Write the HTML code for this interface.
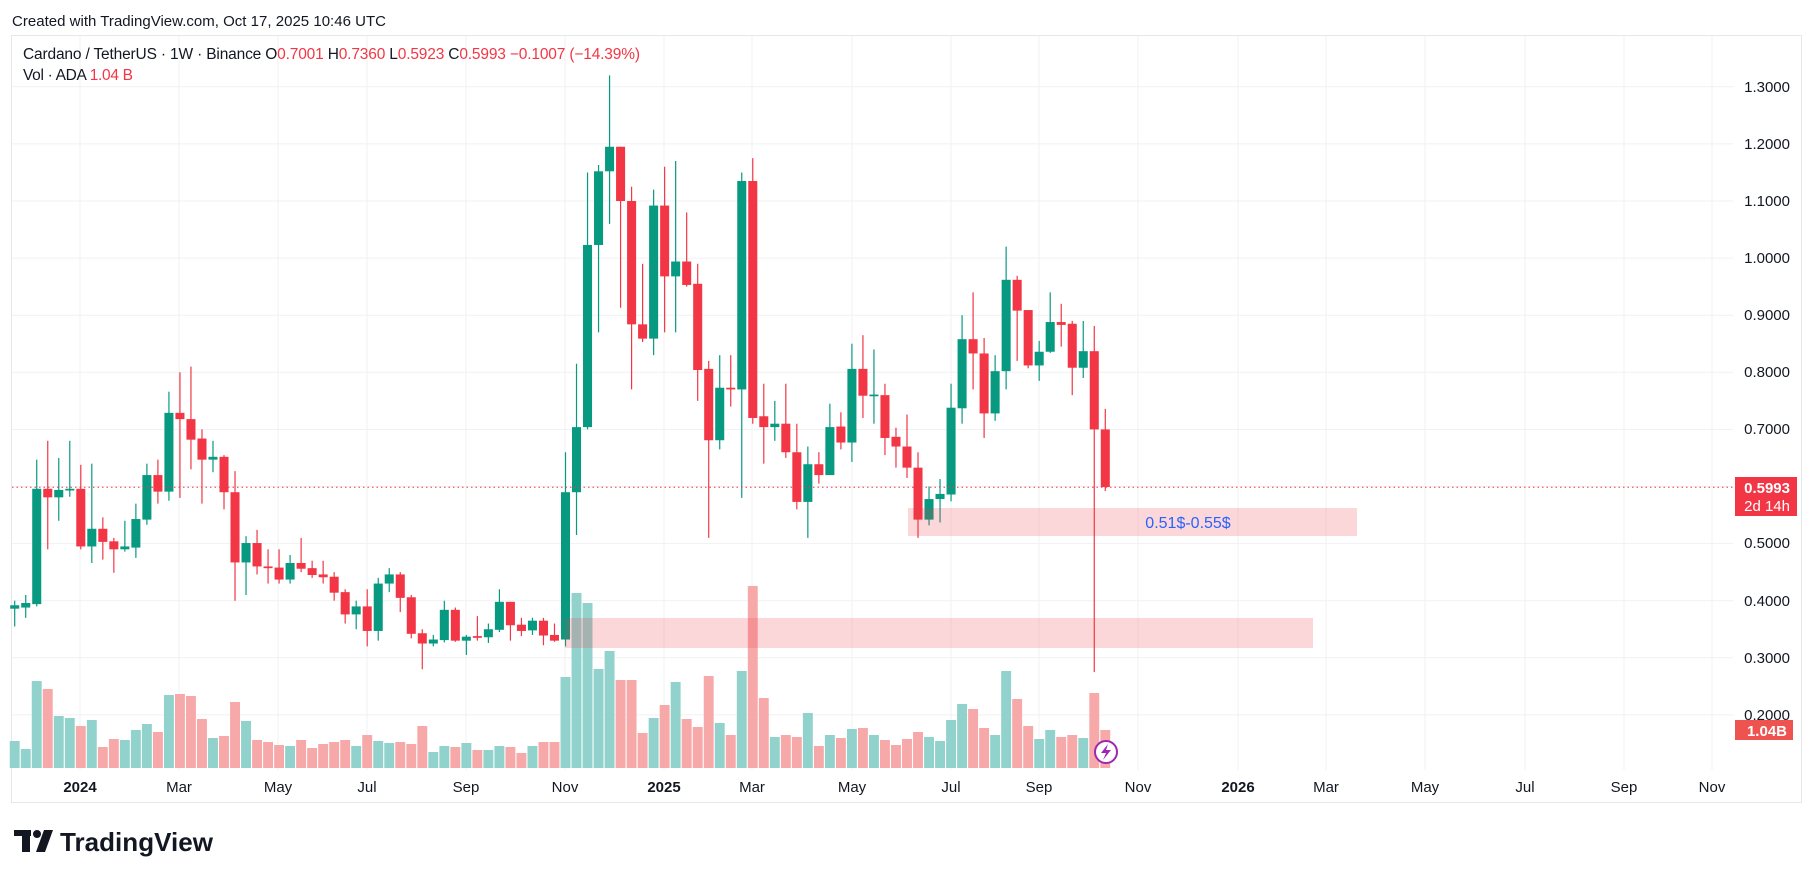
<!DOCTYPE html>
<html><head><meta charset="utf-8"><style>
html,body{margin:0;padding:0;background:#fff;}
svg{display:block;font-family:"Liberation Sans",sans-serif;}
.w line{vector-effect:non-scaling-stroke;}
</style></head><body>
<svg width="1814" height="878" viewBox="0 0 1814 878" xmlns="http://www.w3.org/2000/svg">
<rect width="1814" height="878" fill="#fff"/>
<text x="12" y="26" font-size="15" fill="#131722" textLength="374">Created with TradingView.com, Oct 17, 2025 10:46 UTC</text>
<rect x="11.5" y="35.5" width="1790" height="767" fill="#fff" stroke="#e6e7ea"/>
<g stroke="#f0f1f3" stroke-width="1">
<line x1="12" x2="1733" y1="714.9" y2="714.9"/><line x1="12" x2="1733" y1="657.8" y2="657.8"/><line x1="12" x2="1733" y1="600.7" y2="600.7"/><line x1="12" x2="1733" y1="543.6" y2="543.6"/><line x1="12" x2="1733" y1="486.5" y2="486.5"/><line x1="12" x2="1733" y1="429.4" y2="429.4"/><line x1="12" x2="1733" y1="372.3" y2="372.3"/><line x1="12" x2="1733" y1="315.2" y2="315.2"/><line x1="12" x2="1733" y1="258.1" y2="258.1"/><line x1="12" x2="1733" y1="201" y2="201"/><line x1="12" x2="1733" y1="143.9" y2="143.9"/><line x1="12" x2="1733" y1="86.8" y2="86.8"/>
<line x1="80" x2="80" y1="36" y2="770"/><line x1="179" x2="179" y1="36" y2="770"/><line x1="278" x2="278" y1="36" y2="770"/><line x1="367" x2="367" y1="36" y2="770"/><line x1="466" x2="466" y1="36" y2="770"/><line x1="565" x2="565" y1="36" y2="770"/><line x1="664" x2="664" y1="36" y2="770"/><line x1="752" x2="752" y1="36" y2="770"/><line x1="852" x2="852" y1="36" y2="770"/><line x1="951" x2="951" y1="36" y2="770"/><line x1="1039" x2="1039" y1="36" y2="770"/><line x1="1138" x2="1138" y1="36" y2="770"/><line x1="1238" x2="1238" y1="36" y2="770"/><line x1="1326" x2="1326" y1="36" y2="770"/><line x1="1425" x2="1425" y1="36" y2="770"/><line x1="1525" x2="1525" y1="36" y2="770"/><line x1="1624" x2="1624" y1="36" y2="770"/><line x1="1712" x2="1712" y1="36" y2="770"/>
</g>
<g transform="translate(14.7,768) scale(11.016,-1)">
<g fill="#92d2cc">
<rect x="-.45" y="0" width=".9" height="27"/><rect x=".55" y="0" width=".9" height="19"/><rect x="1.55" y="0" width=".9" height="87"/><rect x="3.55" y="0" width=".9" height="52"/><rect x="4.55" y="0" width=".9" height="50"/><rect x="6.55" y="0" width=".9" height="48"/><rect x="9.55" y="0" width=".9" height="28"/><rect x="10.55" y="0" width=".9" height="38"/><rect x="11.55" y="0" width=".9" height="44"/><rect x="13.55" y="0" width=".9" height="73"/><rect x="17.55" y="0" width=".9" height="30"/><rect x="20.55" y="0" width=".9" height="47"/><rect x="24.55" y="0" width=".9" height="22"/><rect x="30.55" y="0" width=".9" height="22"/><rect x="32.55" y="0" width=".9" height="27"/><rect x="33.55" y="0" width=".9" height="25"/><rect x="37.55" y="0" width=".9" height="16"/><rect x="38.55" y="0" width=".9" height="22"/><rect x="40.55" y="0" width=".9" height="25"/><rect x="42.55" y="0" width=".9" height="18"/><rect x="43.55" y="0" width=".9" height="22"/><rect x="46.55" y="0" width=".9" height="22"/><rect x="49.55" y="0" width=".9" height="91"/><rect x="50.55" y="0" width=".9" height="175"/><rect x="51.55" y="0" width=".9" height="165"/><rect x="52.55" y="0" width=".9" height="99"/><rect x="53.55" y="0" width=".9" height="117"/><rect x="57.55" y="0" width=".9" height="50"/><rect x="59.55" y="0" width=".9" height="86"/><rect x="63.55" y="0" width=".9" height="45"/><rect x="65.55" y="0" width=".9" height="97"/><rect x="68.55" y="0" width=".9" height="31"/><rect x="71.55" y="0" width=".9" height="55"/><rect x="73.55" y="0" width=".9" height="33"/><rect x="75.55" y="0" width=".9" height="39"/><rect x="77.55" y="0" width=".9" height="33"/><rect x="82.55" y="0" width=".9" height="31"/><rect x="83.55" y="0" width=".9" height="27"/><rect x="84.55" y="0" width=".9" height="48"/><rect x="85.55" y="0" width=".9" height="64"/><rect x="88.55" y="0" width=".9" height="33"/><rect x="89.55" y="0" width=".9" height="97"/><rect x="92.55" y="0" width=".9" height="29"/><rect x="93.55" y="0" width=".9" height="38"/><rect x="96.55" y="0" width=".9" height="30"/>
</g>
<g fill="#f7a9a9">
<rect x="2.55" y="0" width=".9" height="79"/><rect x="5.55" y="0" width=".9" height="42"/><rect x="7.55" y="0" width=".9" height="21"/><rect x="8.55" y="0" width=".9" height="29"/><rect x="12.55" y="0" width=".9" height="36"/><rect x="14.55" y="0" width=".9" height="74"/><rect x="15.55" y="0" width=".9" height="72"/><rect x="16.55" y="0" width=".9" height="49"/><rect x="18.55" y="0" width=".9" height="32"/><rect x="19.55" y="0" width=".9" height="66"/><rect x="21.55" y="0" width=".9" height="28"/><rect x="22.55" y="0" width=".9" height="26"/><rect x="23.55" y="0" width=".9" height="23"/><rect x="25.55" y="0" width=".9" height="28"/><rect x="26.55" y="0" width=".9" height="20"/><rect x="27.55" y="0" width=".9" height="24"/><rect x="28.55" y="0" width=".9" height="26"/><rect x="29.55" y="0" width=".9" height="28"/><rect x="31.55" y="0" width=".9" height="33"/><rect x="34.55" y="0" width=".9" height="26"/><rect x="35.55" y="0" width=".9" height="24"/><rect x="36.55" y="0" width=".9" height="42"/><rect x="39.55" y="0" width=".9" height="21"/><rect x="41.55" y="0" width=".9" height="18"/><rect x="44.55" y="0" width=".9" height="21"/><rect x="45.55" y="0" width=".9" height="15"/><rect x="47.55" y="0" width=".9" height="26"/><rect x="48.55" y="0" width=".9" height="26"/><rect x="54.55" y="0" width=".9" height="88"/><rect x="55.55" y="0" width=".9" height="88"/><rect x="56.55" y="0" width=".9" height="35"/><rect x="58.55" y="0" width=".9" height="63"/><rect x="60.55" y="0" width=".9" height="49"/><rect x="61.55" y="0" width=".9" height="41"/><rect x="62.55" y="0" width=".9" height="92"/><rect x="64.55" y="0" width=".9" height="33"/><rect x="66.55" y="0" width=".9" height="182"/><rect x="67.55" y="0" width=".9" height="70"/><rect x="69.55" y="0" width=".9" height="33"/><rect x="70.55" y="0" width=".9" height="31"/><rect x="72.55" y="0" width=".9" height="22"/><rect x="74.55" y="0" width=".9" height="30"/><rect x="76.55" y="0" width=".9" height="40"/><rect x="78.55" y="0" width=".9" height="28"/><rect x="79.55" y="0" width=".9" height="23"/><rect x="80.55" y="0" width=".9" height="29"/><rect x="81.55" y="0" width=".9" height="36"/><rect x="86.55" y="0" width=".9" height="59"/><rect x="87.55" y="0" width=".9" height="40"/><rect x="90.55" y="0" width=".9" height="69"/><rect x="91.55" y="0" width=".9" height="42"/><rect x="94.55" y="0" width=".9" height="31"/><rect x="95.55" y="0" width=".9" height="33"/><rect x="97.55" y="0" width=".9" height="75"/><rect x="98.55" y="0" width=".9" height="38"/>
</g>
</g>
<g class="w" transform="translate(14.7,829.1) scale(11.016,-571)">
<g fill="#089981" stroke="#089981" stroke-width="1.2">
<line x1="0" x2="0" y1=".355" y2=".40"/><line x1="1" x2="1" y1=".37" y2=".41"/><line x1="2" x2="2" y1=".39" y2=".647"/><line x1="4" x2="4" y1=".54" y2=".65"/><line x1="5" x2="5" y1=".582" y2=".68"/><line x1="7" x2="7" y1=".466" y2=".64"/><line x1="10" x2="10" y1=".486" y2=".54"/><line x1="11" x2="11" y1=".475" y2=".57"/><line x1="12" x2="12" y1=".533" y2=".64"/><line x1="14" x2="14" y1=".575" y2=".766"/><line x1="18" x2="18" y1=".625" y2=".68"/><line x1="21" x2="21" y1=".41" y2=".513"/><line x1="25" x2="25" y1=".43" y2=".48"/><line x1="31" x2="31" y1=".35" y2=".40"/><line x1="33" x2="33" y1=".33" y2=".44"/><line x1="34" x2="34" y1=".415" y2=".457"/><line x1="38" x2="38" y1=".32" y2=".34"/><line x1="39" x2="39" y1=".327" y2=".40"/><line x1="41" x2="41" y1=".305" y2=".34"/><line x1="43" x2="43" y1=".326" y2=".36"/><line x1="44" x2="44" y1=".345" y2=".42"/><line x1="47" x2="47" y1=".34" y2=".37"/><line x1="50" x2="50" y1=".32" y2=".66"/><line x1="51" x2="51" y1=".515" y2=".815"/><line x1="52" x2="52" y1=".70" y2="1.15"/><line x1="53" x2="53" y1=".87" y2="1.163"/><line x1="54" x2="54" y1="1.06" y2="1.32"/><line x1="58" x2="58" y1=".83" y2="1.12"/><line x1="60" x2="60" y1=".87" y2="1.17"/><line x1="64" x2="64" y1=".665" y2=".83"/><line x1="66" x2="66" y1=".58" y2="1.15"/><line x1="69" x2="69" y1=".68" y2=".75"/><line x1="72" x2="72" y1=".51" y2=".67"/><line x1="74" x2="74" y1=".62" y2=".745"/><line x1="76" x2="76" y1=".643" y2=".85"/><line x1="78" x2="78" y1=".71" y2=".84"/><line x1="83" x2="83" y1=".532" y2=".60"/><line x1="84" x2="84" y1=".537" y2=".613"/><line x1="85" x2="85" y1=".574" y2=".78"/><line x1="86" x2="86" y1=".71" y2=".90"/><line x1="89" x2="89" y1=".715" y2=".83"/><line x1="90" x2="90" y1=".77" y2="1.02"/><line x1="93" x2="93" y1=".785" y2=".855"/><line x1="94" x2="94" y1=".834" y2=".94"/><line x1="97" x2="97" y1=".79" y2=".89"/>
<g stroke="none">
<rect x="-.41" width=".82" y=".386" height=".006"/><rect x=".59" width=".82" y=".388" height=".008"/><rect x="1.59" width=".82" y=".394" height=".202"/><rect x="3.59" width=".82" y=".581" height=".013"/><rect x="4.59" width=".82" y=".593" height=".003"/><rect x="6.59" width=".82" y=".495" height=".031"/><rect x="9.59" width=".82" y=".49" height=".005"/><rect x="10.59" width=".82" y=".493" height=".05"/><rect x="11.59" width=".82" y=".542" height=".078"/><rect x="13.59" width=".82" y=".591" height=".138"/><rect x="17.59" width=".82" y=".647" height=".005"/><rect x="20.59" width=".82" y=".467" height=".034"/><rect x="24.59" width=".82" y=".437" height=".029"/><rect x="30.59" width=".82" y=".376" height=".014"/><rect x="32.59" width=".82" y=".347" height=".083"/><rect x="33.59" width=".82" y=".43" height=".016"/><rect x="37.59" width=".82" y=".325" height=".007"/><rect x="38.59" width=".82" y=".331" height=".053"/><rect x="40.59" width=".82" y=".33" height=".007"/><rect x="42.59" width=".82" y=".336" height=".014"/><rect x="43.59" width=".82" y=".349" height=".049"/><rect x="46.59" width=".82" y=".348" height=".017"/><rect x="49.59" width=".82" y=".332" height=".258"/><rect x="50.59" width=".82" y=".59" height=".114"/><rect x="51.59" width=".82" y=".704" height=".319"/><rect x="52.59" width=".82" y="1.023" height=".129"/><rect x="53.59" width=".82" y="1.152" height=".043"/><rect x="57.59" width=".82" y=".859" height=".233"/><rect x="59.59" width=".82" y=".968" height=".026"/><rect x="63.59" width=".82" y=".681" height=".092"/><rect x="65.59" width=".82" y=".77" height=".365"/><rect x="68.59" width=".82" y=".704" height=".006"/><rect x="71.59" width=".82" y=".573" height=".066"/><rect x="73.59" width=".82" y=".62" height=".084"/><rect x="75.59" width=".82" y=".677" height=".129"/><rect x="77.59" width=".82" y=".758" height=".003"/><rect x="82.59" width=".82" y=".542" height=".036"/><rect x="83.59" width=".82" y=".578" height=".009"/><rect x="84.59" width=".82" y=".586" height=".152"/><rect x="85.59" width=".82" y=".737" height=".121"/><rect x="88.59" width=".82" y=".728" height=".074"/><rect x="89.59" width=".82" y=".802" height=".16"/><rect x="92.59" width=".82" y=".812" height=".024"/><rect x="93.59" width=".82" y=".836" height=".052"/><rect x="96.59" width=".82" y=".808" height=".029"/>
</g>
</g>
<g fill="#f23645" stroke="#f23645" stroke-width="1.2">
<line x1="3" x2="3" y1=".49" y2=".68"/><line x1="6" x2="6" y1=".49" y2=".638"/><line x1="8" x2="8" y1=".472" y2=".546"/><line x1="9" x2="9" y1=".449" y2=".51"/><line x1="13" x2="13" y1=".57" y2=".647"/><line x1="15" x2="15" y1=".58" y2=".80"/><line x1="16" x2="16" y1=".63" y2=".81"/><line x1="17" x2="17" y1=".57" y2=".70"/><line x1="19" x2="19" y1=".56" y2=".655"/><line x1="20" x2="20" y1=".40" y2=".627"/><line x1="22" x2="22" y1=".446" y2=".524"/><line x1="23" x2="23" y1=".43" y2=".49"/><line x1="24" x2="24" y1=".43" y2=".49"/><line x1="26" x2="26" y1=".45" y2=".51"/><line x1="27" x2="27" y1=".44" y2=".47"/><line x1="28" x2="28" y1=".43" y2=".47"/><line x1="29" x2="29" y1=".40" y2=".45"/><line x1="30" x2="30" y1=".36" y2=".42"/><line x1="32" x2="32" y1=".32" y2=".42"/><line x1="35" x2="35" y1=".38" y2=".45"/><line x1="36" x2="36" y1=".334" y2=".41"/><line x1="37" x2="37" y1=".28" y2=".35"/><line x1="40" x2="40" y1=".328" y2=".388"/><line x1="42" x2="42" y1=".33" y2=".373"/><line x1="45" x2="45" y1=".33" y2=".398"/><line x1="46" x2="46" y1=".338" y2=".37"/><line x1="48" x2="48" y1=".322" y2=".37"/><line x1="49" x2="49" y1=".328" y2=".36"/><line x1="55" x2="55" y1=".913" y2="1.195"/><line x1="56" x2="56" y1=".77" y2="1.125"/><line x1="57" x2="57" y1=".853" y2=".99"/><line x1="59" x2="59" y1=".87" y2="1.16"/><line x1="61" x2="61" y1=".95" y2="1.08"/><line x1="62" x2="62" y1=".75" y2=".99"/><line x1="63" x2="63" y1=".51" y2=".82"/><line x1="65" x2="65" y1=".74" y2=".83"/><line x1="67" x2="67" y1=".71" y2="1.175"/><line x1="68" x2="68" y1=".64" y2=".78"/><line x1="70" x2="70" y1=".65" y2=".78"/><line x1="71" x2="71" y1=".56" y2=".71"/><line x1="73" x2="73" y1=".605" y2=".66"/><line x1="75" x2="75" y1=".665" y2=".73"/><line x1="77" x2="77" y1=".72" y2=".865"/><line x1="79" x2="79" y1=".655" y2=".78"/><line x1="80" x2="80" y1=".633" y2=".703"/><line x1="81" x2="81" y1=".615" y2=".726"/><line x1="82" x2="82" y1=".51" y2=".66"/><line x1="87" x2="87" y1=".77" y2=".94"/><line x1="88" x2="88" y1=".685" y2=".86"/><line x1="91" x2="91" y1=".82" y2=".969"/><line x1="92" x2="92" y1=".807" y2=".909"/><line x1="95" x2="95" y1=".845" y2=".92"/><line x1="96" x2="96" y1=".76" y2=".89"/><line x1="98" x2="98" y1=".275" y2=".881"/><line x1="99" x2="99" y1=".592" y2=".736"/>
<g stroke="none">
<rect x="2.59" width=".82" y=".581" height=".015"/><rect x="5.59" width=".82" y=".495" height=".101"/><rect x="7.59" width=".82" y=".503" height=".023"/><rect x="8.59" width=".82" y=".49" height=".014"/><rect x="12.59" width=".82" y=".591" height=".029"/><rect x="14.59" width=".82" y=".718" height=".011"/><rect x="15.59" width=".82" y=".682" height=".036"/><rect x="16.59" width=".82" y=".647" height=".037"/><rect x="18.59" width=".82" y=".59" height=".062"/><rect x="19.59" width=".82" y=".467" height=".123"/><rect x="21.59" width=".82" y=".46" height=".041"/><rect x="22.59" width=".82" y=".457" height=".003"/><rect x="23.59" width=".82" y=".437" height=".021"/><rect x="25.59" width=".82" y=".456" height=".01"/><rect x="26.59" width=".82" y=".445" height=".012"/><rect x="27.59" width=".82" y=".441" height=".005"/><rect x="28.59" width=".82" y=".414" height=".028"/><rect x="29.59" width=".82" y=".376" height=".039"/><rect x="31.59" width=".82" y=".347" height=".043"/><rect x="34.59" width=".82" y=".405" height=".041"/><rect x="35.59" width=".82" y=".342" height=".064"/><rect x="36.59" width=".82" y=".325" height=".018"/><rect x="39.59" width=".82" y=".33" height=".054"/><rect x="41.59" width=".82" y=".335" height=".003"/><rect x="44.59" width=".82" y=".357" height=".041"/><rect x="45.59" width=".82" y=".347" height=".011"/><rect x="47.59" width=".82" y=".339" height=".026"/><rect x="48.59" width=".82" y=".33" height=".01"/><rect x="54.59" width=".82" y="1.10" height=".095"/><rect x="55.59" width=".82" y=".884" height=".216"/><rect x="56.59" width=".82" y=".859" height=".025"/><rect x="58.59" width=".82" y=".968" height=".124"/><rect x="60.59" width=".82" y=".953" height=".041"/><rect x="61.59" width=".82" y=".804" height=".151"/><rect x="62.59" width=".82" y=".681" height=".125"/><rect x="64.59" width=".82" y=".77" height=".003"/><rect x="66.59" width=".82" y=".72" height=".415"/><rect x="67.59" width=".82" y=".704" height=".019"/><rect x="69.59" width=".82" y=".66" height=".05"/><rect x="70.59" width=".82" y=".573" height=".087"/><rect x="72.59" width=".82" y=".62" height=".019"/><rect x="74.59" width=".82" y=".677" height=".028"/><rect x="76.59" width=".82" y=".759" height=".047"/><rect x="78.59" width=".82" y=".685" height=".075"/><rect x="79.59" width=".82" y=".67" height=".017"/><rect x="80.59" width=".82" y=".633" height=".037"/><rect x="81.59" width=".82" y=".542" height=".091"/><rect x="86.59" width=".82" y=".833" height=".025"/><rect x="87.59" width=".82" y=".728" height=".105"/><rect x="90.59" width=".82" y=".908" height=".054"/><rect x="91.59" width=".82" y=".812" height=".097"/><rect x="94.59" width=".82" y=".883" height=".005"/><rect x="95.59" width=".82" y=".808" height=".077"/><rect x="97.59" width=".82" y=".70" height=".137"/><rect x="98.59" width=".82" y=".599" height=".101"/>
</g>
</g>
</g>
<rect x="908" y="508" width="449" height="28" fill="#f23645" fill-opacity="0.2"/>
<rect x="565" y="618" width="748" height="30" fill="#f23645" fill-opacity="0.2"/>
<text x="1188" y="528" font-size="16" fill="#2962ff" text-anchor="middle">0.51$-0.55$</text>
<line x1="12" y1="487.2" x2="1735" y2="487.2" stroke="#f23645" stroke-dasharray="1.5,3"/>
<text x="23" y="59" font-size="15.5" fill="#131722" textLength="617">Cardano / TetherUS · 1W · Binance  O<tspan fill="#f23645">0.7001</tspan>  H<tspan fill="#f23645">0.7360</tspan>  L<tspan fill="#f23645">0.5923</tspan>  C<tspan fill="#f23645">0.5993  −0.1007 (−14.39%)</tspan></text>
<text x="23" y="80" font-size="15.5" fill="#131722" textLength="110">Vol · ADA  <tspan fill="#f23645">1.04 B</tspan></text>
<g font-size="15" fill="#131722" text-anchor="end">
<text x="1790" y="92">1.3000</text><text x="1790" y="149">1.2000</text><text x="1790" y="206">1.1000</text>
<text x="1790" y="263">1.0000</text><text x="1790" y="320">0.9000</text><text x="1790" y="377">0.8000</text>
<text x="1790" y="434">0.7000</text><text x="1790" y="548">0.5000</text><text x="1790" y="606">0.4000</text>
<text x="1790" y="663">0.3000</text><text x="1790" y="720">0.2000</text>
</g>
<rect x="1735" y="477" width="62" height="39" fill="#f23645"/>
<text x="1790" y="493" font-size="15" fill="#fff" text-anchor="end" font-weight="bold">0.5993</text>
<text x="1790" y="511" font-size="15" fill="#fff" text-anchor="end">2d 14h</text>
<rect x="1735" y="720" width="58" height="20" fill="#ef5350"/>
<text x="1787" y="736" font-size="15" fill="#fff" text-anchor="end" font-weight="bold">1.04B</text>
<g font-size="15" fill="#131722" text-anchor="middle">
<text x="80" y="792" font-weight="bold">2024</text><text x="179" y="792">Mar</text><text x="278" y="792">May</text>
<text x="367" y="792">Jul</text><text x="466" y="792">Sep</text><text x="565" y="792">Nov</text>
<text x="664" y="792" font-weight="bold">2025</text><text x="752" y="792">Mar</text><text x="852" y="792">May</text>
<text x="951" y="792">Jul</text><text x="1039" y="792">Sep</text><text x="1138" y="792">Nov</text>
<text x="1238" y="792" font-weight="bold">2026</text><text x="1326" y="792">Mar</text><text x="1425" y="792">May</text>
<text x="1525" y="792">Jul</text><text x="1624" y="792">Sep</text><text x="1712" y="792">Nov</text>
</g>
<circle cx="1106" cy="752" r="11" fill="#fff" stroke="#9c27b0" stroke-width="2"/>
<path d="M1108 744 L1101 753 L1106 753 L1103 760 L1111 750 L1106 750 Z" fill="#9c27b0"/>
<g fill="#131722">
<rect x="14" y="830" width="17" height="6"/><rect x="22" y="830" width="8" height="22"/>
<circle cx="37" cy="834" r="4"/><path d="M44 830 L53 830 L45 852 L36 852 Z"/>
</g>
<text x="60" y="851" font-size="26" font-weight="bold" fill="#131722" textLength="153">TradingView</text>
</svg>
</body></html>
